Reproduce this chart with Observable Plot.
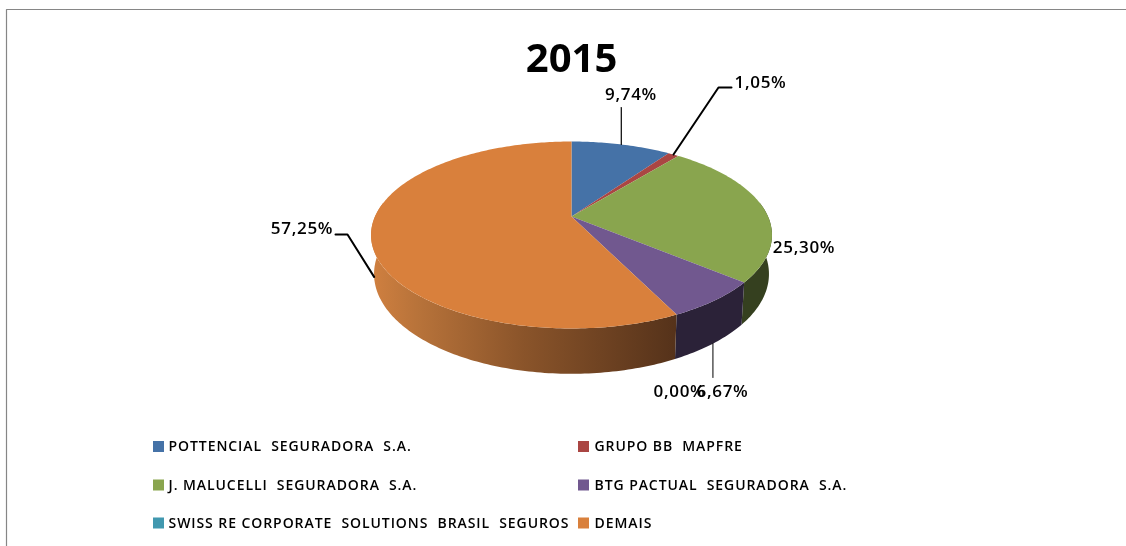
<!DOCTYPE html>
<html><head><meta charset="utf-8">
<script src="https://cdn.jsdelivr.net/npm/d3@7"></script>
<script src="https://cdn.jsdelivr.net/npm/@observablehq/plot@0.6"></script>
<style>html,body{margin:0;padding:0;background:#fff}svg{display:block}
g[font-size="14"] text{letter-spacing:.93px}
g[font-size="17"] text{letter-spacing:.7px}
</style>
</head><body><div id="chart"></div>
<script>
const categories = ["POTTENCIAL  SEGURADORA  S.A.", "GRUPO BB  MAPFRE", "J. MALUCELLI  SEGURADORA  S.A.", "BTG PACTUAL  SEGURADORA  S.A.", "SWISS RE CORPORATE  SOLUTIONS  BRASIL  SEGUROS", "DEMAIS"];
const shares = [9.74, 1.05, 25.30, 6.67, 0.00, 57.25];
const shareLabels = ["9,74%", "1,05%", "25,30%", "6,67%", "0,00%", "57,25%"];
const colors = ["#4572A7", "#AA4643", "#89A54E", "#71588F", "#4198AF", "#D9803C"];
const sideColors = ["#2A4365", "#662A28", "#35401F", "#2B2238", "#27606F", "url(#sideOrange)"];
const title = "2015";

const W = 1126, H = 546;
// perspective projection of the pie disc
const cx = 571, cy = 216, B = 196.5, A = 89.8, k = 0.198, D = 37.7, S = 0.985;
const pt = (a, bottom) => {
  const u = Math.sin(a), v = -Math.cos(a), w = 1 - k * v, s = bottom ? S : 1;
  return [cx + B * s * u / w, cy + A * s * v / w + (bottom ? D / w : 0)];
};
const arcs = d3.pie().sort(null)(shares);
const steps = (a0, a1) => { const n = Math.max(2, Math.ceil((a1 - a0) * 60)); return d3.range(n + 1).map(i => a0 + (a1 - a0) * i / n); };

const tops = [], sides = [];
arcs.forEach((d, i) => {
  if (d.endAngle - d.startAngle <= 0) return;
  const ring = [[cx, cy], ...steps(d.startAngle, d.endAngle).map(a => pt(a, false))];
  ring.forEach(p => tops.push({i, x: p[0], y: p[1]}));
  // outer wall: only the front half can be seen
  const a0 = Math.max(d.startAngle, Math.PI * 0.45), a1 = Math.min(d.endAngle, Math.PI * 1.55);
  if (a1 > a0) {
    const st = steps(a0, a1);
    [...st.map(a => pt(a, false)), ...st.reverse().map(a => pt(a, true))].forEach(p => sides.push({i, x: p[0], y: p[1]}));
  }
});
const mid = i => (arcs[i].startAngle + arcs[i].endAngle) / 2;

// leaders start on the slices, bends are layout
const lead = (i, bottom, ...rest) => [pt(mid(i), bottom), ...rest].map(p => ({i, x: p[0], y: p[1]}));
const leaders = [
  {w: 1.2, pts: lead(0, false, [pt(mid(0), false)[0], 107])},
  {w: 2, pts: lead(1, false, [718, 87], [731, 87])},
  {w: 1, pts: lead(3, true, [pt(mid(3), true)[0], 377])},
  {w: 2, pts: lead(5, true, [347, 234], [335, 234])}
];
const labelPlace = [[630.5, 94], [760, 82], [803.5, 247], [722, 391], [679, 391], [301.5, 228]];
const labels = shareLabels.map((t, i) => ({t, x: labelPlace[i][0], y: labelPlace[i][1]}));

const legendX = [153, 578], legendY = [446.5, 485, 523];
const legend = categories.map((t, i) => ({t, i, x: legendX[i % 2], y: legendY[Math.floor(i / 2)]}));
const frame = [{x: 6, y: H}, {x: 6, y: 9}, {x: W, y: 9}];

const fontL = "'Open Sans', sans-serif";
const soft = "blur(0.35px)";
const plot = Plot.plot({
  width: W, height: H, margin: 0,
  x: {domain: [0, W], range: [0, W], axis: null},
  y: {domain: [0, H], range: [0, H], axis: null},
  marks: [
    () => {
      const ns = "http://www.w3.org/2000/svg";
      const defs = document.createElementNS(ns, "defs");
      const g = document.createElementNS(ns, "linearGradient");
      g.setAttribute("id", "sideOrange");
      [["0", "#D08040"], ["0.15", "#B8733A"], ["0.5", "#8A542A"], ["1", "#55321A"]].forEach(([o, c]) => {
        const s = document.createElementNS(ns, "stop");
        s.setAttribute("offset", o); s.setAttribute("stop-color", c); g.appendChild(s);
      });
      defs.appendChild(g);
      return defs;
    },
    Plot.line(frame, {x: "x", y: "y", stroke: "#868686", strokeWidth: 1.2}),
    ...sideColors.map((c, i) => Plot.line(sides.filter(d => d.i === i), {x: "x", y: "y", fill: c, stroke: "none", curve: "linear-closed"})),
    ...colors.map((c, i) => Plot.line(tops.filter(d => d.i === i), {x: "x", y: "y", fill: c, stroke: "none", curve: "linear-closed"})),
    ...leaders.map(l => Plot.line(l.pts, {x: "x", y: "y", stroke: "#000", strokeWidth: l.w})),
    Plot.text([title], {x: () => cx, y: () => 59, text: d => d, fontFamily: fontL, fontWeight: 700, fontSize: 40, fill: "#000", imageFilter: soft}),
    Plot.text(labels, {x: "x", y: "y", text: "t", fontFamily: fontL, fontWeight: 600, fontSize: 17, fill: "#000", imageFilter: soft}),
    Plot.rect(legend, {x1: "x", x2: d => d.x + 11, y1: d => d.y - 5.5, y2: d => d.y + 5.5, fill: d => colors[d.i]}),
    Plot.text(legend, {x: d => d.x + (d.i % 2 ? 16 : 15), y: "y", text: "t", textAnchor: "start", fontFamily: fontL, fontWeight: 600, fontSize: 14, fill: "#000", imageFilter: soft})
  ]
});
document.getElementById("chart").append(plot);
</script></body></html>
